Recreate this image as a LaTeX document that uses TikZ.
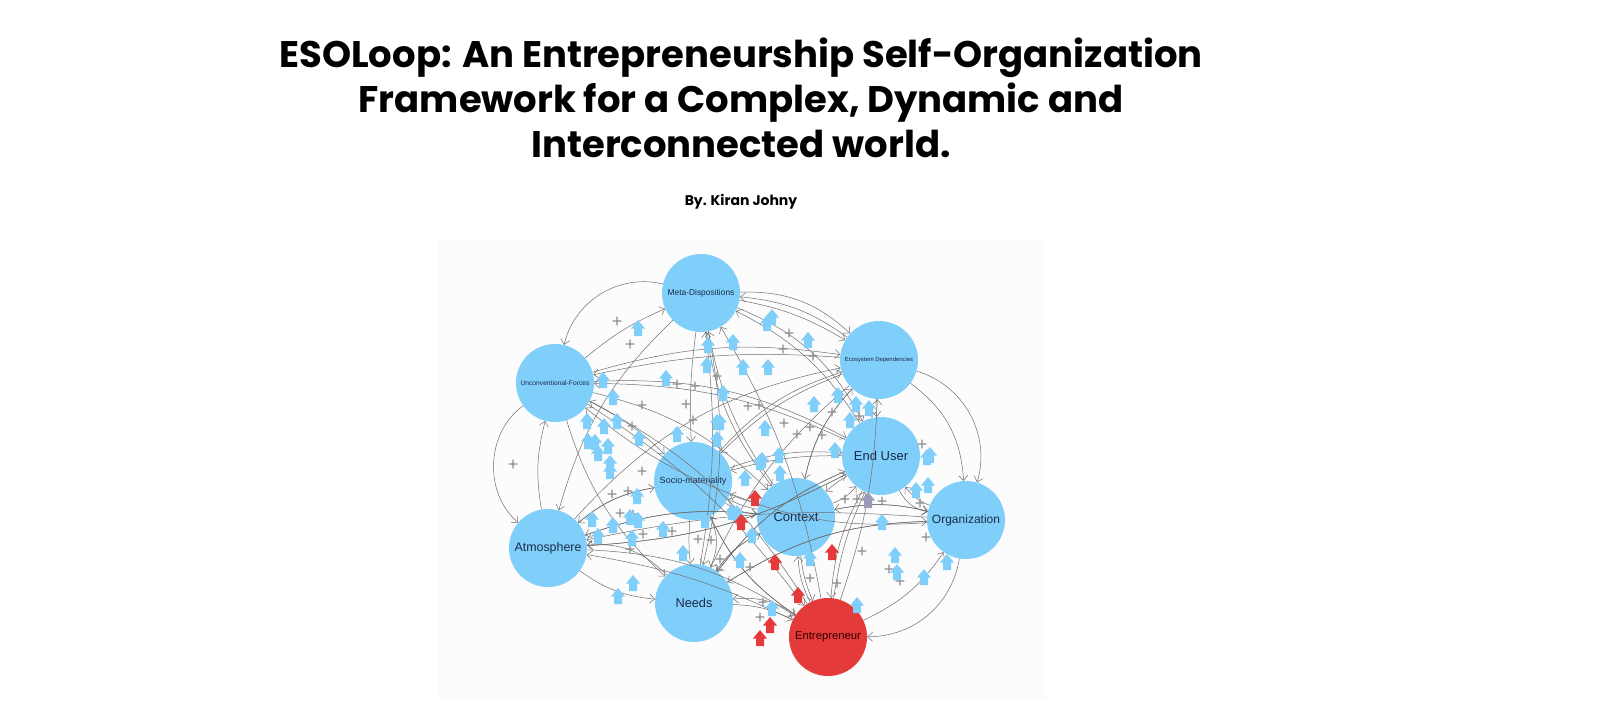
\documentclass[tikz,border=0pt]{standalone}
\usepackage{fontspec}
\setmainfont{Liberation Sans}
\newfontfamily\titlefont{Poppins}
\usetikzlibrary{arrows.meta}
\definecolor{nodeblue}{HTML}{80CFFA}
\definecolor{nodered}{HTML}{E53A3A}
\definecolor{linkgray}{HTML}{6E6E6E}
\definecolor{plusgray}{HTML}{8C8C8C}
\definecolor{iconpurple}{HTML}{9A9AB8}
\definecolor{labelnavy}{HTML}{1B2A4A}

\begin{document}
\begin{tikzpicture}[x=1pt,y=-1pt,
	factor/.style={circle,fill=nodeblue,minimum size=78pt,inner sep=0pt,text=labelnavy},
	link/.style={draw=linkgray,line width=0.5pt,-{Straight Barb[length=5pt,width=9pt]}},
	plus/.style={text=plusgray,font=\fontsize{18}{18}\selectfont,inner sep=0pt},
	upicon/.pic={\fill (-4,8) -- (4,8) -- (4,0.5) -- (7,0.5) -- (0,-8) -- (-7,0.5) -- (-4,0.5) -- cycle;}]
	\useasboundingbox (0,0) rectangle (1600,725);
	\fill[black!1.2] (438,240) rectangle (1045,700);
	% title and author
	\node[align=center,font=\titlefont\bfseries\fontsize{37}{45}\selectfont] (title) at (741,98)
		{ESOLoop: An Entrepreneurship Self-Organization\\Framework for a Complex, Dynamic and\\Interconnected world.};
	\node[font=\titlefont\bfseries\fontsize{14}{14}\selectfont] (author) at (741,202) {By. Kiran Johny};
	% factors
	\node[factor,font=\fontsize{8.4}{9}\selectfont] (meta) at (701,293) {Meta-Dispositions};
	\node[factor,font=\fontsize{5.9}{7}\selectfont] (eco) at (879,360) {Ecosystem Dependencies};
	\node[factor,font=\fontsize{6.7}{7}\selectfont] (unconv) at (555,383) {Unconventional-Forces};
	\node[factor,font=\fontsize{13}{14}\selectfont] (user) at (881,456) {End User};
	\node[factor,font=\fontsize{9}{10}\selectfont] (socio) at (693,481) {Socio-materiality};
	\node[factor,font=\fontsize{13}{14}\selectfont] (context) at (796,517) {Context};
	\node[factor,font=\fontsize{12}{13}\selectfont] (org) at (966,520) {Organization};
	\node[factor,font=\fontsize{12.4}{13}\selectfont] (atmos) at (548,548) {Atmosphere};
	\node[factor,font=\fontsize{12.8}{13}\selectfont] (needs) at (694,603) {Needs};
	\node[factor,fill=nodered,text=black!80!red,font=\fontsize{11.3}{12}\selectfont] (entre) at (828,637) {Entrepreneur};
	% links (positive bend = bulge to the right of travel)
	\foreach \a/\b/\k in {meta/unconv/45, unconv/meta/-8, meta/eco/-22, meta/eco/-10, eco/meta/15,
		unconv/eco/-12, eco/unconv/8, socio/eco/-15, atmos/eco/-18, eco/socio/12, meta/socio/5,
		needs/meta/8, context/meta/-12, entre/meta/10, meta/context/15, meta/needs/-12, meta/user/-20,
		user/meta/15, meta/atmos/15, unconv/socio/-8, unconv/context/-15, unconv/needs/15,
		unconv/entre/-10, entre/unconv/15, context/unconv/-10, unconv/user/-15, user/unconv/12,
		unconv/atmos/52, atmos/unconv/-12, eco/user/5, eco/org/-25, eco/context/15, context/eco/-15,
		eco/needs/12, user/org/25, org/user/-15, user/context/5, context/user/15, user/atmos/-12,
		atmos/user/12, user/socio/8, socio/user/-12, socio/context/15, context/socio/-8, socio/needs/5,
		needs/socio/25, socio/atmos/15, atmos/socio/-15, socio/entre/15, entre/socio/-15,
		context/org/-12, org/context/12, context/needs/15, needs/context/-15, context/entre/8,
		entre/context/-12, context/atmos/12, atmos/context/-12, org/entre/-40, entre/org/15,
		org/needs/15, needs/org/-15, org/atmos/8, org/socio/-12, atmos/needs/15, needs/atmos/25,
		atmos/entre/-15, entre/atmos/8, needs/entre/-12, entre/needs/20, entre/user/-8,
		user/entre/12, entre/eco/8, needs/user/-15, user/needs/15, eco/org/-45}
		\draw[link] (\a) to[bend right=\k] (\b);
	% polarity signs
	\foreach \x/\y [count=\i] in {617/322, 630/345, 677/385, 695/387, 686/405, 642/406, 693/421,
		632/427, 717/377, 789/334, 783/350, 813/357, 748/407, 759/406, 784/424, 797/435,
		810/428, 822/436, 832/413, 859/417, 872/414, 922/445, 612/495, 628/492, 620/514, 633/515,
		643/535, 672/532, 630/550, 698/540, 711/541, 750/568, 642/472, 720/560, 513/465, 845/500,
		857/500, 882/502, 920/504, 926/538, 862/552, 837/584, 810/579, 763/603, 760/618,
		889/570, 900/582}
		\node[plus] (p\i) at (\x,\y) {+};
	% change markers
	\foreach \x/\y in {638/328, 603/380, 613/397, 666/378, 708/345, 707/365, 723/393, 717/422,
		717/439, 677/434, 587/421, 604/426, 617/421, 595/442, 588/441, 608/446, 639/438, 610/463,
		598/453, 772/317, 767/323, 808/340, 733/342, 743/367, 768/367, 814/404, 838/395, 856/404,
		869/408, 850/420, 930/455, 779/455, 720/422, 765/428, 835/450, 762/460, 780/473, 745/478,
		610/471, 637/496, 592/519, 613/525, 630/517, 638/520, 663/529, 598/536, 632/538, 683/553,
		740/560, 633/583, 618/596, 705/520, 737/513, 760/462, 882/522, 895/555, 897/572, 924/577,
		947/562, 928/485, 916/490, 927/457, 810/558, 857/605, 732/512, 752/535, 772/608}
		\pic[fill=nodeblue] at (\x,\y) {upicon};
	\foreach \x/\y in {755/498, 741/522, 775/562, 832/552, 798/595, 770/625, 760/638}
		\pic[fill=nodered] at (\x,\y) {upicon};
	\pic[fill=iconpurple] at (868,500) {upicon};
\end{tikzpicture}
\end{document}
